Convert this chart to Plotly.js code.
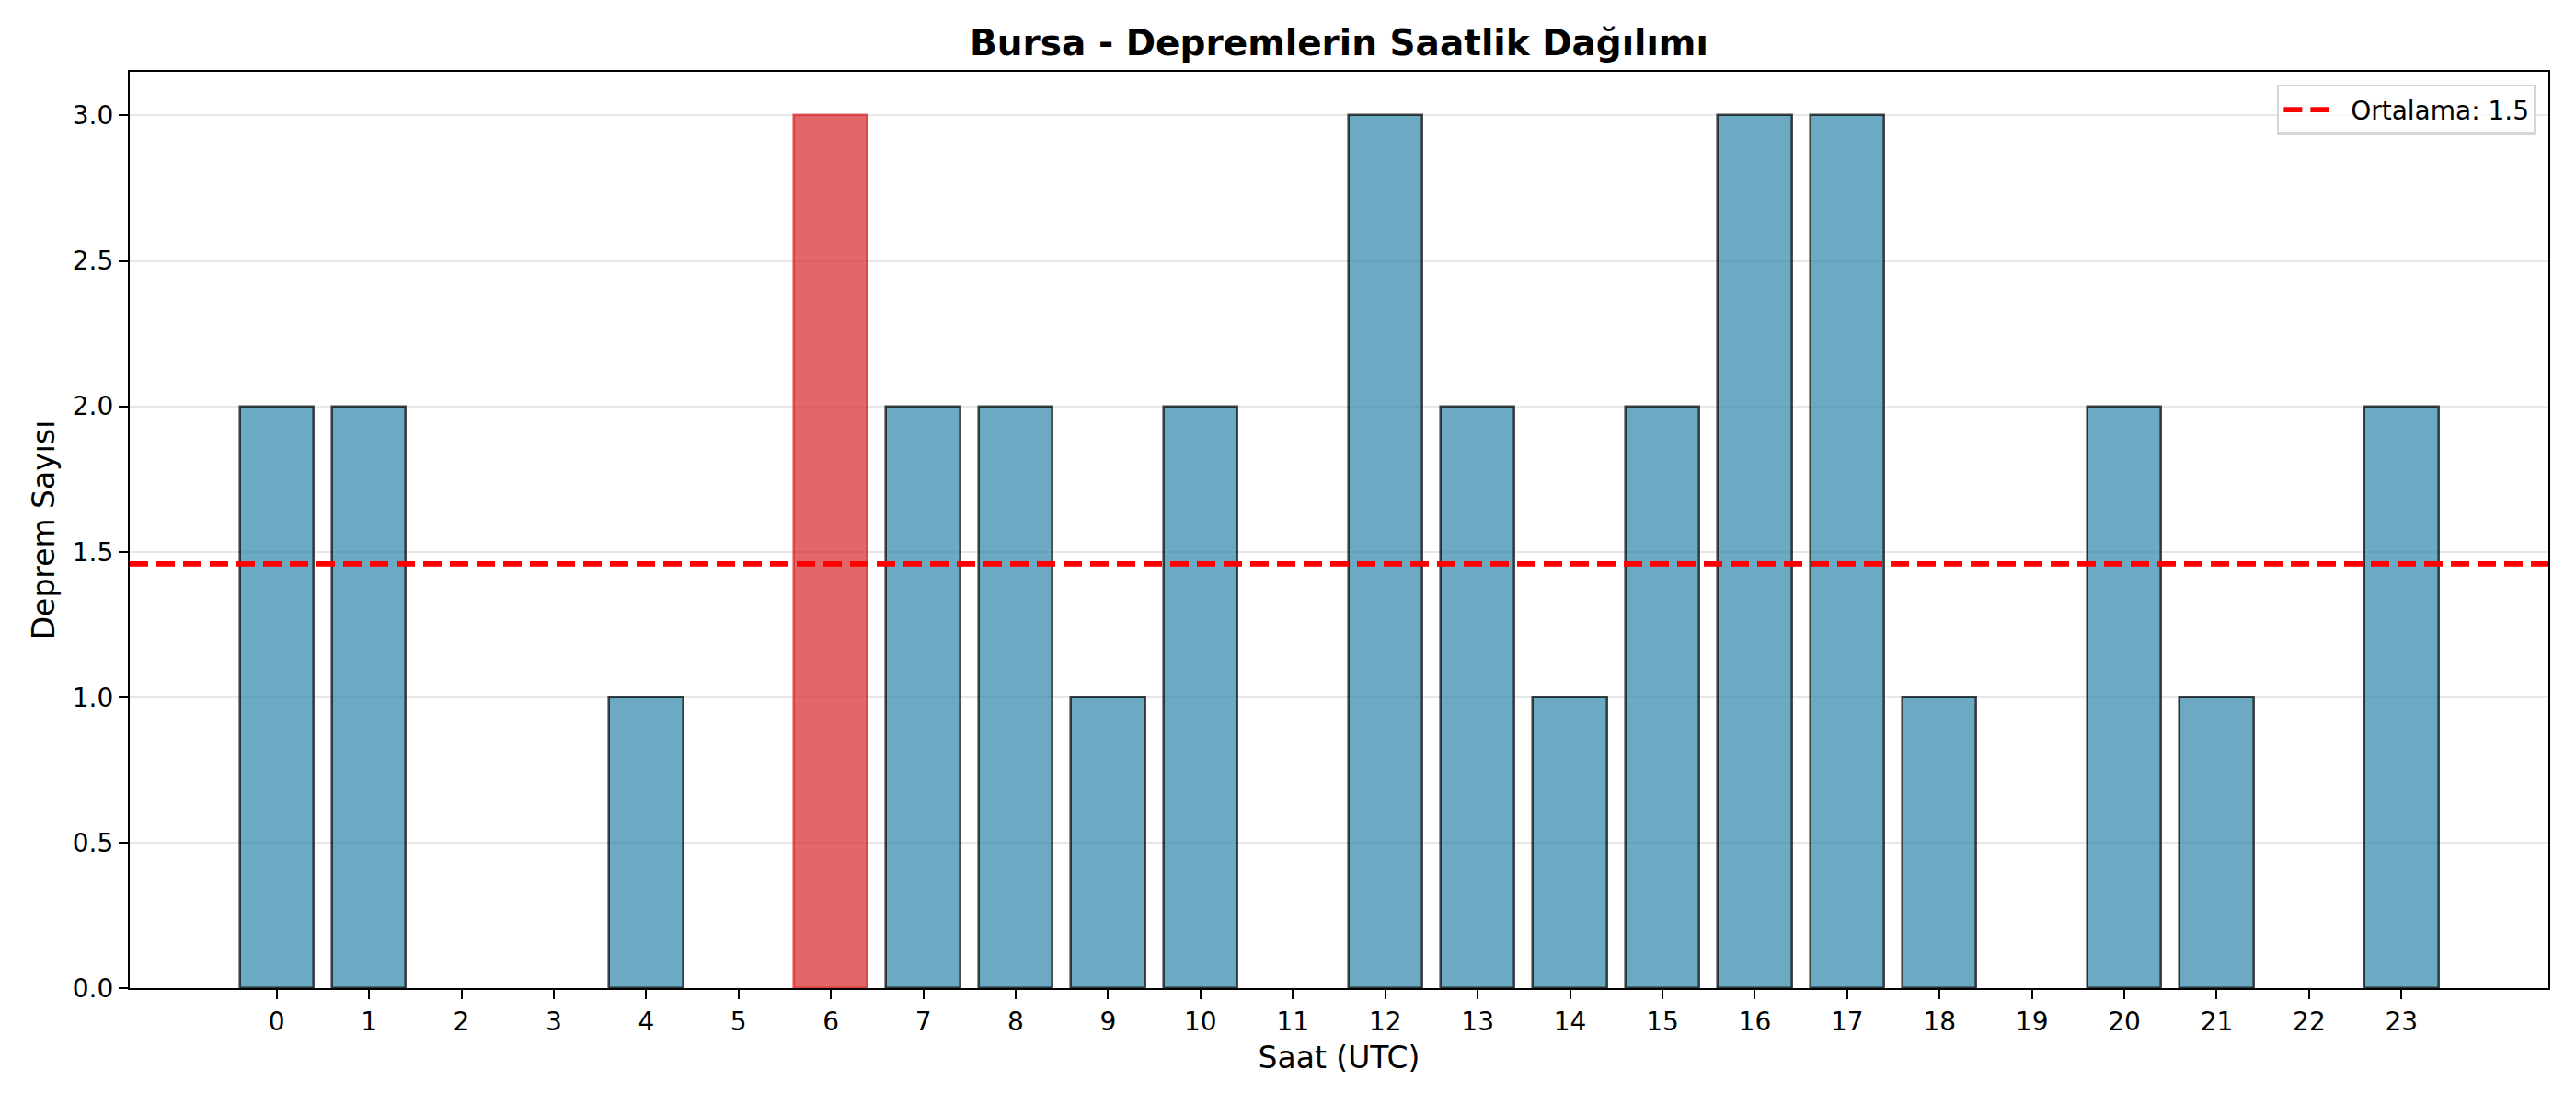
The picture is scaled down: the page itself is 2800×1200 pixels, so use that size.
<!DOCTYPE html>
<html>
<head>
<meta charset="utf-8">
<script src="https://cdn.plot.ly/plotly-3.0.1.min.js"></script>
<style>
  body { margin: 0; background: white; }
  #chart { width: 2800px; height: 1200px; }
</style>
</head>
<body>
<div id="chart"></div>
<script>
// hourly counts, Bursa
const hours = [0,1,2,3,4,5,6,7,8,9,10,11,12,13,14,15,16,17,18,19,20,21,22,23];
const counts = [2,2,0,0,1,0,3,2,2,1,2,0,3,2,1,2,3,3,1,0,2,1,0,2];
const yTicks = [0.0, 0.5, 1.0, 1.5, 2.0, 2.5, 3.0];

const chartTitle = 'Bursa - Depremlerin Saatlik Dağılımı';
const xLabel = 'Saat (UTC)';
const yLabel = 'Deprem Sayısı';

const blueFill = 'rgba(46,134,171,0.7)';
const blueEdge = 'rgba(0,0,0,0.7)';
const redFill = 'rgba(214,39,40,0.7)';
const redEdge = 'rgba(214,39,40,0.7)';

///////////////////////////////////////////////////////////////////////////////
let mean = counts.reduce((a, b) => a + b, 0) / counts.length;
let maxIdx = counts.indexOf(Math.max(...counts));

let fills = counts.map((v, i) => i === maxIdx ? redFill : blueFill);
let edges = counts.map((v, i) => i === maxIdx ? redEdge : blueEdge);
// empty hours: the outline sits under the spine in the original, so drop it
let edgeWidths = counts.map(v => v > 0 ? 2.6 : 0);

// matplotlib style auto margins: 5% around the bar extents
let xLo = hours[0] - 0.4, xHi = hours[hours.length - 1] + 0.4;
let xPad = (xHi - xLo) * 0.05;
let xRange = [xLo - xPad, xHi + xPad];
let yRange = [0, Math.max(...counts) * 1.05];

let bars = {
    type: 'bar',
    x: hours, y: counts,
    width: 0.8,
    marker: {color: fills, line: {color: edges, width: edgeWidths}},
    showlegend: false,
    hoverinfo: 'x+y',
};

let meanLine = {
    type: 'scatter', mode: 'lines',
    x: xRange, y: [mean, mean],
    name: '&nbsp;&nbsp;Ortalama: ' + mean.toFixed(1),
    line: {color: 'red', width: 5.6, dash: '20px,9px'},
    showlegend: true,
};

let font = 'DejaVu Sans, sans-serif';

let layout = {
    width: 2800, height: 1200,
    margin: {l: 141, r: 30, t: 78, b: 126},
    paper_bgcolor: 'white',
    plot_bgcolor: 'white',
    font: {family: font, color: 'black', size: 28},
    title: {
        text: '<b>' + chartTitle + '</b>',
        font: {family: font, size: 39, color: 'black'},
        xref: 'paper', x: 0.5, xanchor: 'center',
        y: 0.961, yanchor: 'middle',
    },
    bargap: 0,
    xaxis: {
        range: xRange,
        tickmode: 'array', tickvals: hours, ticktext: hours.map(String),
        ticks: 'outside', ticklen: 10, tickwidth: 2.2, tickcolor: 'black',
        tickfont: {family: font, size: 28},
        showgrid: false, zeroline: false,
        showline: true, linecolor: 'black', linewidth: 2.2, mirror: true,
        title: {text: xLabel, font: {family: font, size: 33}, standoff: 12},
    },
    yaxis: {
        range: yRange,
        tickmode: 'array', tickvals: yTicks, ticktext: yTicks.map(v => v.toFixed(1)),
        ticks: 'outside', ticklen: 10, tickwidth: 2.2, tickcolor: 'black',
        tickfont: {family: font, size: 28},
        showgrid: true, gridcolor: '#e7e7e7', gridwidth: 2.2,
        zeroline: false,
        showline: true, linecolor: 'black', linewidth: 2.2, mirror: true,
        title: {text: yLabel, font: {family: font, size: 33}, standoff: 9},
    },
    legend: {
        x: 0.995, xanchor: 'right',
        y: 0.986, yanchor: 'top',
        bgcolor: 'rgba(255,255,255,0.8)',
        bordercolor: '#d6d6d6', borderwidth: 2.5,
        itemwidth: 50,
        font: {family: font, size: 28},
    },
};

Plotly.newPlot(document.getElementById('chart'), [bars, meanLine], layout, {displayModeBar: false});
</script>
</body>
</html>
